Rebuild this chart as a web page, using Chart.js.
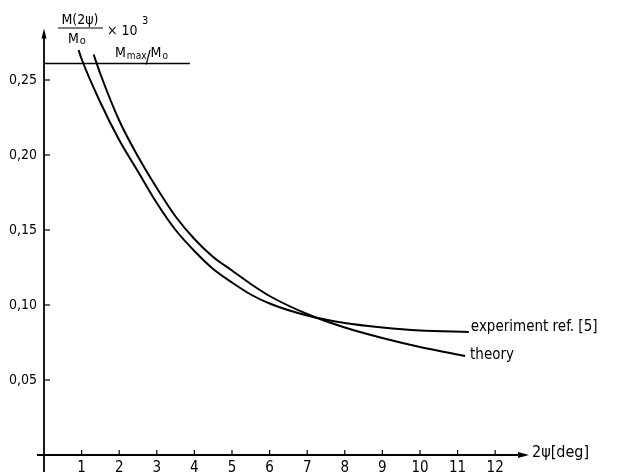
<!DOCTYPE html>
<html><head><meta charset="utf-8">
<script src="https://cdn.jsdelivr.net/npm/chart.js@4.4.0/dist/chart.umd.min.js"></script>
<style>html,body{margin:0;padding:0;background:#fff}#wrap{width:636px;height:476px;position:relative}</style>
</head><body><div id="wrap"><canvas id="c" width="636" height="476"></canvas></div>
<script>
const xTickValues = [1,2,3,4,5,6,7,8,9,10,11,12];
const yTickValues = [0.05,0.10,0.15,0.20,0.25];
const experimentX = [0.92,1.0,1.5,2.0,2.5,3.0,3.5,4.0,4.5,5.0,5.5,6.0,7.0,8.0,9.0,10.0,11.3];
const experimentY = [0.270,0.264,0.235,0.210,0.189,0.168,0.150,0.136,0.124,0.115,0.107,0.101,0.093,0.088,0.085,0.083,0.082];
const theoryX = [1.32,1.5,2.0,2.5,3.0,3.5,4.0,4.5,5.0,5.5,6.0,7.0,8.0,9.0,10.0,11.2];
const theoryY = [0.267,0.254,0.223,0.199,0.178,0.159,0.144,0.132,0.123,0.114,0.106,0.094,0.085,0.078,0.072,0.066];
const mmaxRatio = 0.261;
const mmaxLineX = [0, 3.88];
const seriesLabels = ['experiment ref. [5]', 'theory'];
const xAxisLabel = '2ψ[deg]';
const FONT = '"DejaVu Sans Condensed", "Liberation Sans Narrow", sans-serif';

const toPts = (xs, ys) => xs.map((v,i)=>({x:v, y:ys[i]}));

const axesPlugin = {
  id:'axes',
  afterDraw(chart){
    const {ctx, scales:{x,y}, chartArea} = chart;
    const x0 = x.getPixelForValue(0), y0 = y.getPixelForValue(0);
    ctx.save();
    ctx.strokeStyle='#000'; ctx.fillStyle='#000'; ctx.lineWidth=1.8;
    // y axis with arrow
    ctx.beginPath(); ctx.moveTo(x0, y0+17); ctx.lineTo(x0, chartArea.top+4); ctx.stroke();
    ctx.beginPath(); ctx.moveTo(x0, chartArea.top-2); ctx.lineTo(x0-2.5, chartArea.top+8); ctx.lineTo(x0+2.5, chartArea.top+8); ctx.closePath(); ctx.fill();
    // x axis with arrow
    ctx.beginPath(); ctx.moveTo(x0-7, y0); ctx.lineTo(chartArea.right-6, y0); ctx.stroke();
    ctx.beginPath(); ctx.moveTo(chartArea.right, y0); ctx.lineTo(chartArea.right-11, y0-3); ctx.lineTo(chartArea.right-11, y0+3); ctx.closePath(); ctx.fill();
    // inward ticks
    ctx.lineWidth=1.2;
    x.ticks.forEach(t=>{const px=x.getPixelForValue(t.value); ctx.beginPath(); ctx.moveTo(px,y0); ctx.lineTo(px,y0-5); ctx.stroke();});
    y.ticks.forEach(t=>{const py=y.getPixelForValue(t.value); ctx.beginPath(); ctx.moveTo(x0,py); ctx.lineTo(x0+6,py); ctx.stroke();});

    // x axis label
    ctx.textBaseline='middle'; ctx.textAlign='left';
    ctx.font='16px '+FONT;
    ctx.fillText(xAxisLabel, chartArea.right+3, y0-2);

    // series labels at curve ends
    ctx.font='15px '+FONT;
    const ex = x.getPixelForValue(experimentX[experimentX.length-1]);
    const ey = y.getPixelForValue(experimentY[experimentY.length-1]);
    ctx.fillText(seriesLabels[0], ex+2, ey-5);
    const tx = x.getPixelForValue(theoryX[theoryX.length-1]);
    const ty = y.getPixelForValue(theoryY[theoryY.length-1]);
    ctx.fillText(seriesLabels[1], tx+5, ty-1);

    // y axis title: M(2ψ)/Mo × 10^3
    ctx.textBaseline='alphabetic';
    ctx.font='14px '+FONT;
    ctx.textAlign='center';
    ctx.fillText('M(2ψ)', 80, 24);
    ctx.lineWidth=1.2;
    ctx.beginPath(); ctx.moveTo(58,28); ctx.lineTo(103,28); ctx.stroke();
    ctx.textAlign='left';
    ctx.fillText('M', 68, 43);
    const mw = ctx.measureText('M').width;
    ctx.font='11px '+FONT; ctx.fillText('o', 68+mw+1, 44);
    ctx.font='14px '+FONT; ctx.fillText('× 10', 107, 35);
    ctx.font='11px '+FONT; ctx.fillText('3', 142, 24);

    // Mmax/Mo label
    let px = 115;
    ctx.font='14px '+FONT; ctx.fillText('M', px, 57); px += ctx.measureText('M').width+1;
    ctx.font='10px '+FONT; ctx.fillText('max', px, 59); px += ctx.measureText('max').width;
    ctx.font='17px '+FONT; ctx.fillText('/', px-1, 63); px += ctx.measureText('/').width-1;
    ctx.font='14px '+FONT; ctx.fillText('M', px, 57); px += ctx.measureText('M').width+1;
    ctx.font='10px '+FONT; ctx.fillText('o', px, 59);
    ctx.restore();
  }
};

const lineStyle = {borderColor:'#000', backgroundColor:'#000', borderWidth:2, pointRadius:0, showLine:true, fill:false, cubicInterpolationMode:'monotone'};

new Chart(document.getElementById('c'), {
  type:'scatter',
  data:{ datasets:[
    Object.assign({label:seriesLabels[0], data:toPts(experimentX, experimentY)}, lineStyle),
    Object.assign({label:seriesLabels[1], data:toPts(theoryX, theoryY)}, lineStyle),
    Object.assign({label:'Mmax/Mo', data:mmaxLineX.map(v=>({x:v, y:mmaxRatio}))}, lineStyle, {borderWidth:1.3, cubicInterpolationMode:'default'})
  ]},
  options:{
    responsive:false, animation:false, devicePixelRatio:1,
    layout:{padding:{top:30.5, right:107, bottom:0, left:0}},
    plugins:{legend:{display:false}, tooltip:{enabled:false}},
    scales:{
      x:{type:'linear', min:0, max:12.9,
        afterBuildTicks:s=>{s.ticks = xTickValues.map(v=>({value:v}));},
        afterFit:s=>{s.height=21;},
        grid:{display:false, drawTicks:false}, border:{display:false},
        ticks:{color:'#000', font:{family:FONT, size:15}, padding:4, autoSkip:false, maxRotation:0, callback:v=>String(v)}},
      y:{type:'linear', min:0, max:0.283,
        afterBuildTicks:s=>{s.ticks = yTickValues.map(v=>({value:v}));},
        afterFit:s=>{s.width=44;},
        grid:{display:false, drawTicks:false}, border:{display:false},
        ticks:{color:'#000', font:{family:FONT, size:14}, padding:7, callback:v=>v.toFixed(2).replace('.', ',')}}
    }
  },
  plugins:[axesPlugin]
});
</script></body></html>
